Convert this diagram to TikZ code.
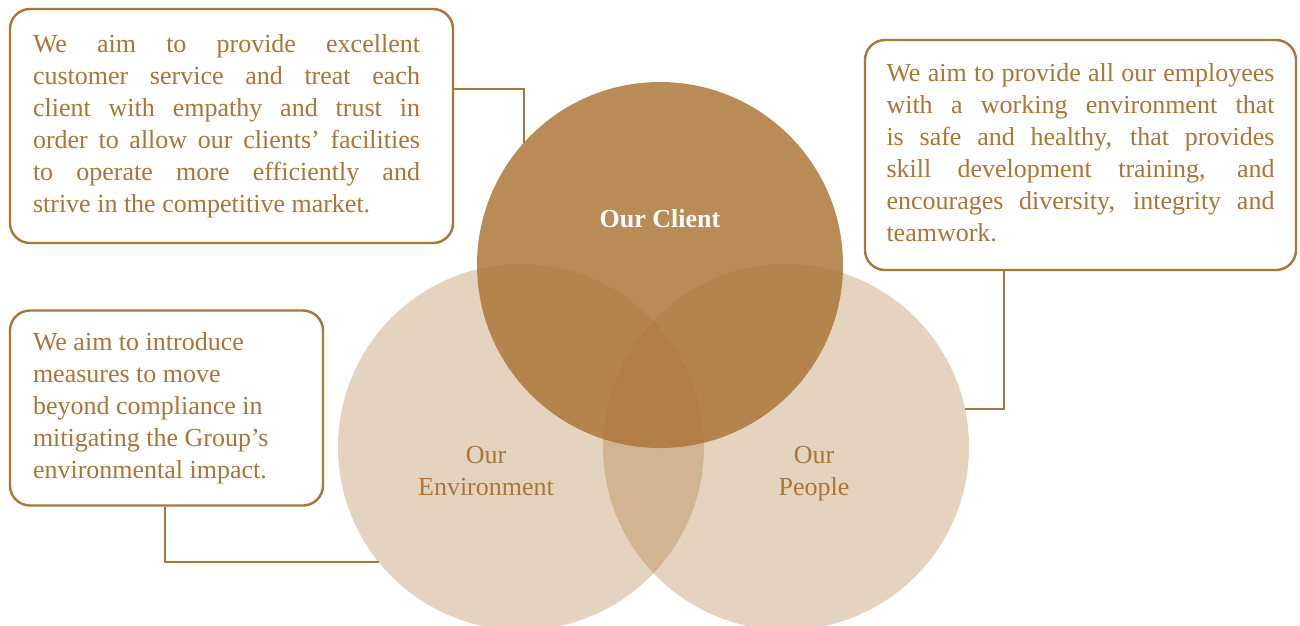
\documentclass[tikz,border=0pt]{standalone}
\usepackage{fontspec}
\setmainfont{Liberation Serif}
\definecolor{brandbrown}{RGB}{171,117,55}
\newcommand{\fullline}[2][387pt]{\makebox[#1][s]{\strut #2}\\}
\newcommand{\plainspaces}{\spaceskip=0pt\xspaceskip=0pt}

\begin{document}
\begin{tikzpicture}[x=1pt,y=-1pt,
		infobox/.style={draw=brandbrown,line width=2.4pt,rounded corners=20pt,fill=white,inner xsep=23pt,inner ysep=0pt,text=brandbrown,align=left,font=\fontsize{26}{32}\selectfont},
		link/.style={draw=brandbrown,line width=2.4pt},
		ring/.style={circle,minimum size=366pt,inner sep=0pt,outer sep=0pt,fill=brandbrown},
		ringlabel/.style={text=brandbrown,align=center,inner sep=0pt,font=\fontsize{26}{32}\selectfont}]
					\useasboundingbox (0,0) rectangle (1300,625);
					
					% the three circles
					\node[ring,fill opacity=0.32] (env) at (521,447) {};
					\node[ring,fill opacity=0.32] (people) at (786,447) {};
					\node[ring,fill opacity=0.84] (client) at (660,265) {};
					
					\node[ringlabel,text=white,font=\bfseries\fontsize{26}{32}\selectfont] (clientlbl) at (660,219) {Our Client};
					\node[ringlabel,anchor=north] (envlbl) at (486,446) {Our\\Environment};
					\node[ringlabel,anchor=north] (peoplelbl) at (814,446) {Our\\People};
					
					% text boxes
					\node[infobox,text width=397pt,minimum width=443pt,minimum height=234pt] (clientbox) at (231.5,126) {\plainspaces
						\fullline{We aim to provide excellent}
						\fullline{customer service and treat each}
						\fullline{client with empathy and trust in}
						\fullline{order to allow our clients’ facilities}
						\fullline{to operate more efficiently and}
						\strut strive in the competitive market.};
					\node[infobox,inner xsep=21.5pt,text width=388pt,minimum width=431pt,minimum height=230pt] (peoplebox) at (1080.5,155) {\plainspaces
						\fullline[388pt]{We aim to provide all our employees}
						\fullline[388pt]{with a working environment that}
						\fullline[388pt]{is safe and healthy, that provides}
						\fullline[388pt]{skill development training, and}
						\fullline[388pt]{encourages diversity, integrity and}
						\strut teamwork.};
					\node[infobox,text width=267pt,minimum width=313pt,minimum height=195pt] (envbox) at (166.5,408) {\plainspaces
						\strut We aim to introduce\\
						measures to move\\
						beyond compliance in\\
						mitigating the Group’s\\
						environmental impact.\strut};
					
					% connectors
					\draw[link] (clientbox.east |- 0,89) -| (client.138.6);
					\draw[link] (peoplebox.south -| 1004,0) |- (people.12.3);
					\draw[link] (envbox.south -| 165,0) |- (env.219.3);
				\end{tikzpicture}
\end{document}
